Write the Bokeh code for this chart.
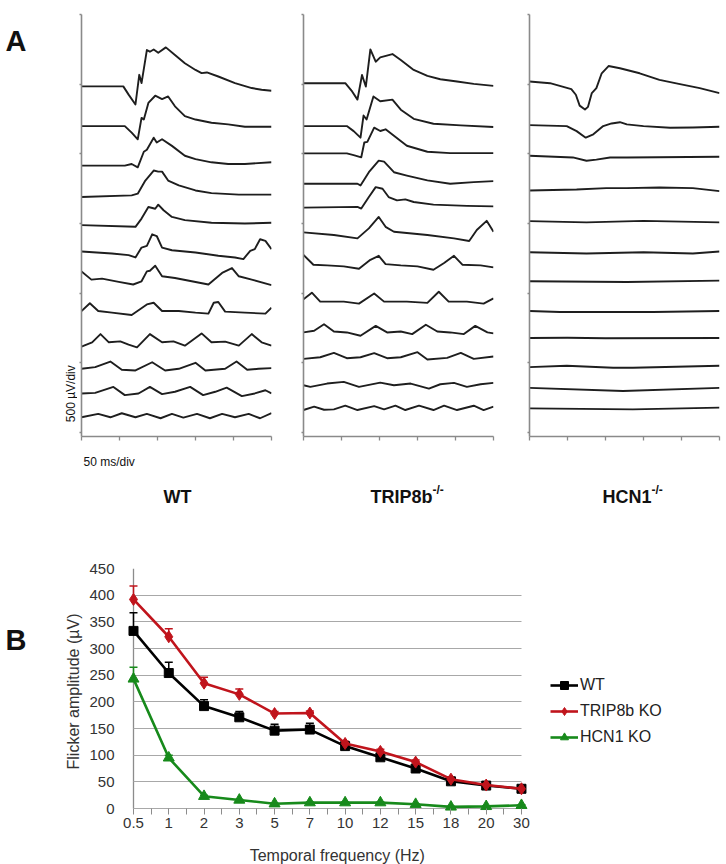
import math
from bokeh.plotting import figure
from bokeh.models import (Range1d, FixedTicker, Legend, LegendItem, Whisker,
                          ColumnDataSource, TeeHead)
from bokeh.core.properties import value
from bokeh.layouts import column, row
from bokeh.embed import file_html
from bokeh.resources import INLINE

FONT = "Liberation Sans"

# ---------------- Panel B data ----------------
FREQ_LABELS = ["0.5", "1", "2", "3", "5", "7", "10", "12", "15", "18", "20", "30"]
WT_AMP   = [333, 254, 192, 171, 146, 148, 117, 96, 75, 51, 43, 37]
WT_ERR   = [34, 20, 12, 11, 12, 12, 4, 4, 4, 3, 3, 2]
TRIP_AMP = [392, 322, 235, 214, 178, 179, 122, 107, 87, 55, 44, 37]
TRIP_ERR = [25, 15, 11, 10, 4, 4, 4, 4, 4, 3, 2, 2]
HCN_AMP  = [243, 95, 23, 16, 9, 11, 11, 11, 8, 3, 4, 6]
HCN_ERR  = [22, 5, 2, 1, 1, 1, 1, 1, 1, 1, 1, 1]

# ---------------- Panel A data (ms, µV relative to each trace's baseline) ----------------
WT_BASE = [2484, 2199, 1915, 1690, 1488, 1299, 1109, 860, 635, 457, 275, 114]
WT_TRACES = [
    [(0,0),(55,0),(62,-59),(71,-130),(76,83),(79,24),(86,261),(90,249),(95,265),(101,242),(111,280),(123,225),(136,166),(150,118),(158,95),(165,100),(180,71),(202,24),(224,-12),(237,-24),(250,-31)],
    [(0,0),(57,0),(66,-47),(74,-95),(79,59),(82,47),(88,166),(97,218),(106,194),(114,213),(123,142),(136,71),(150,47),(171,24),(193,12),(215,-5),(250,-5)],
    [(0,0),(57,0),(66,12),(74,-12),(82,100),(86,114),(95,201),(99,166),(106,190),(119,142),(136,71),(150,47),(171,24),(193,12),(215,12),(250,24)],
    [(0,0),(66,12),(74,24),(84,118),(95,190),(101,182),(106,182),(114,118),(128,83),(150,47),(171,28),(207,17),(250,17)],
    [(0,0),(71,-12),(79,47),(88,130),(97,118),(101,147),(108,107),(119,59),(136,36),(171,17),(215,12),(250,17)],
    [(0,0),(40,-14),(62,-26),(71,-43),(79,28),(86,40),(93,123),(99,111),(106,28),(119,9),(150,-7),(180,-31),(202,-43),(213,-55),(222,5),(228,17),(235,88),(242,76),(250,17)],
    [(0,47),(13,-12),(27,-5),(49,-28),(68,-47),(79,-24),(86,47),(90,52),(97,88),(106,12),(123,0),(145,-24),(167,-47),(185,36),(198,71),(207,12),(224,-12),(250,-52)],
    [(0,12),(11,67),(22,12),(40,0),(66,-17),(86,59),(95,71),(106,12),(128,12),(150,0),(167,-7),(174,71),(180,76),(189,7),(215,0),(242,-7),(250,36)],
    [(0,-19),(14,12),(25,71),(36,12),(51,19),(62,-5),(73,-24),(90,71),(106,12),(121,19),(136,-12),(158,76),(171,12),(189,17),(207,-12),(224,71),(237,12),(250,-12)],
    [(0,0),(18,12),(38,52),(53,-7),(71,-12),(93,47),(110,-12),(128,0),(150,43),(163,-12),(189,0),(204,52),(218,-7),(233,0),(250,5)],
    [(0,5),(18,9),(42,52),(57,-7),(75,5),(90,52),(106,0),(123,17),(143,52),(160,-7),(176,17),(191,47),(211,-14),(228,5),(242,28),(250,5)],
    [(0,-5),(22,19),(38,-5),(53,24),(71,-5),(86,19),(104,-12),(119,19),(134,-7),(152,19),(169,-12),(185,19),(202,-5),(220,19),(235,-12),(250,24)],
]

TRIP_BASE = [2507, 2199, 2003, 1785, 1614, 1429, 1199, 939, 718, 533, 339, 168]
TRIP_TRACES = [
    [(0,0),(55,0),(64,-59),(71,-118),(77,59),(82,-24),(88,242),(95,154),(101,185),(117,209),(128,166),(145,95),(163,52),(180,28),(202,12),(224,-5),(250,-19)],
    [(0,0),(57,0),(66,-36),(75,-83),(79,76),(83,47),(92,213),(101,178),(117,190),(128,118),(145,52),(171,17),(207,5),(250,-7)],
    [(0,0),(57,0),(66,-12),(76,-28),(80,78),(84,83),(93,185),(101,161),(108,173),(119,126),(136,55),(163,12),(193,2),(250,2)],
    [(0,0),(71,0),(75,-12),(86,83),(99,166),(106,159),(119,83),(136,59),(163,24),(193,0),(224,12),(250,19)],
    [(0,0),(71,5),(76,-7),(86,76),(95,147),(104,135),(112,76),(123,52),(134,59),(145,40),(171,21),(215,12),(250,9)],
    [(0,7),(40,-12),(71,-36),(86,36),(99,118),(108,47),(119,12),(163,-12),(198,-36),(218,-55),(228,24),(241,90),(250,12)],
    [(0,76),(13,5),(31,0),(53,-7),(73,-24),(88,40),(99,69),(108,9),(128,0),(150,-7),(171,-31),(185,17),(198,69),(209,5),(233,0),(250,-14)],
    [(0,17),(11,64),(22,0),(53,0),(73,-14),(93,59),(106,0),(136,0),(163,-9),(178,71),(191,0),(215,0),(237,-14),(250,24)],
    [(0,0),(14,12),(27,59),(40,7),(57,0),(75,-24),(95,47),(110,0),(128,7),(143,-12),(161,55),(176,7),(193,0),(211,-12),(226,47),(242,0),(250,-7)],
    [(0,-5),(22,7),(40,38),(57,0),(75,7),(93,36),(110,0),(128,7),(150,43),(163,-9),(189,2),(207,38),(224,-5),(250,12)],
    [(0,0),(9,-12),(31,12),(53,24),(73,-12),(101,19),(119,0),(141,12),(165,-24),(180,7),(198,17),(215,-12),(233,7),(250,17)],
    [(0,-7),(14,17),(27,-5),(40,-2),(55,24),(71,-7),(93,21),(106,-2),(121,24),(134,-7),(152,24),(171,-7),(185,24),(202,-7),(224,24),(237,-7),(250,17)],
]

HCN_BASE = [2519, 2206, 1986, 1737, 1517, 1294, 1085, 872, 678, 474, 315, 178]
HCN_TRACES = [
    [(0,0),(27,-12),(55,-55),(61,-95),(66,-173),(73,-201),(77,-182),(82,-83),(88,-47),(95,59),(104,111),(119,95),(145,59),(171,12),(198,-19),(224,-47),(250,-83)],
    [(0,0),(49,-7),(62,-43),(74,-90),(84,-66),(97,-7),(108,12),(119,21),(128,5),(150,-7),(185,-19),(215,-17),(250,-12)],
    [(0,0),(57,-12),(75,-36),(88,-28),(106,-12),(128,-12),(250,-7)],
    [(0,0),(62,7),(101,17),(128,17),(171,21),(215,17),(250,-5)],
    [(0,0),(75,-9),(150,2),(250,-9)],
    [(0,0),(75,-9),(150,0),(215,-9),(250,5)],
    [(0,0),(128,-5),(250,5)],
    [(0,0),(40,-7),(163,-7),(250,0)],
    [(0,0),(50,2),(100,-2),(250,0)],
    [(0,-5),(49,5),(110,-9),(136,-9),(250,5)],
    [(0,5),(123,-17),(250,5)],
    [(0,-5),(136,-12),(250,0)],
]

TIME_TICKS = [0, 50, 100, 150, 200, 250]
VOLT_TICKS = [0, 500, 1000, 1500, 2000, 2500, 3000]

ROW1_H = 442
AXIS_GREY = "#8a8a8a"
TRACE_COLOR = "#1e1e1e"


def trace_panel(traces, bases, left, frame_w, right):
    p = figure(width=left + frame_w + right, height=ROW1_H,
               x_range=Range1d(0, 250), y_range=Range1d(-29, 3000),
               output_backend="svg", toolbar_location=None,
               min_border_left=left, min_border_right=right,
               min_border_top=14, min_border_bottom=ROW1_H - 14 - 422)
    for tr, b in zip(traces, bases):
        p.line([t for t, _ in tr], [b + v for _, v in tr],
               line_color=TRACE_COLOR, line_width=1.9, line_join="round")
    p.xgrid.visible = False
    p.ygrid.visible = False
    p.outline_line_color = None
    p.xaxis.ticker = FixedTicker(ticks=TIME_TICKS)
    p.yaxis.ticker = FixedTicker(ticks=VOLT_TICKS)
    for ax in (p.xaxis[0], p.yaxis[0]):
        ax.axis_line_color = AXIS_GREY
        ax.axis_line_width = 1.6
        ax.major_tick_line_color = AXIS_GREY
        ax.major_tick_line_width = 1.3
        ax.major_tick_in = 0
        ax.minor_tick_line_color = None
        ax.major_label_text_color = None
        ax.major_label_standoff = 0
    p.xaxis.major_tick_out = 4
    p.yaxis.major_tick_out = 2
    return p


def text_strip(width, height, top):
    # blank figure whose frame is the whole strip; y measured downward from the page top
    s = figure(width=width, height=height, x_range=Range1d(0, width),
               y_range=Range1d(top + height, top), output_backend="svg",
               toolbar_location=None, x_axis_location=None, y_axis_location=None,
               min_border=0)
    s.grid.visible = False
    s.outline_line_color = None
    return s


def txt(s, x, y, text, size, bold=False, align="left", angle=0.0,
        baseline="alphabetic", color="#111111"):
    s.text(x=[x], y=[y], text=[text], text_font=value(FONT), text_font_size=size,
           text_font_style="bold" if bold else "normal", text_align=align,
           text_baseline=baseline, angle=angle, text_color=color)


# ---------------- Panel A ----------------
sA = text_strip(77, ROW1_H, 0)
txt(sA, 5, 28, "A", "29px", bold=True)
txt(sA, 70, 427, "500 \u00b5V/div", "12px", angle=math.pi / 2, baseline="middle")

p1 = trace_panel(WT_TRACES, WT_BASE, 4, 190, 22)
p2 = trace_panel(TRIP_TRACES, TRIP_BASE, 10, 190, 26)
p3 = trace_panel(HCN_TRACES, HCN_BASE, 10, 190, 6)

sLab = text_strip(725, 74, ROW1_H)
txt(sLab, 83, 461, "50 ms/div", "12px")
txt(sLab, 177, 496, "WT", "18px", bold=True, align="center")
txt(sLab, 432, 496, "TRIP8b", "18px", bold=True, align="right")
txt(sLab, 432, 489, "-/-", "12px", bold=True)
txt(sLab, 651, 496, "HCN1", "18px", bold=True, align="right")
txt(sLab, 651, 489, "-/-", "12px", bold=True)

# ---------------- Panel B ----------------
ROW3_TOP = ROW1_H + 74          # 516
B_H = 322                       # figure rows 516..838
sB = text_strip(40, B_H, ROW3_TOP)
txt(sB, 5, 610, "B", "29px", bold=True)

XIDX = list(range(len(FREQ_LABELS)))
PX_PER_CAT = 35.27
FRAME_W = 598
pB = figure(width=685, height=B_H,
            x_range=Range1d(-0.17, -0.17 + FRAME_W / PX_PER_CAT), y_range=Range1d(-11.25, 450),
            output_backend="svg", toolbar_location=None,
            min_border_left=87, min_border_right=0, min_border_top=52, min_border_bottom=B_H - 52 - 246)
pB.outline_line_color = None

# value gridlines (the 0 line doubles as the category axis line)
yg = pB.ygrid[0]
yg.ticker = FixedTicker(ticks=list(range(0, 451, 50)))
yg.grid_line_color = "#a8a8a8"
yg.grid_line_width = 1.2
# the value-axis line at the first category
xg = pB.xgrid[0]
xg.ticker = FixedTicker(ticks=[0])
xg.grid_line_color = "#8c8c8c"
xg.grid_line_width = 1.3
if "cross_bounds" in yg.properties():
    yg.cross_bounds = (0, XIDX[-1])
    xg.cross_bounds = (0, 450)

pB.yaxis.ticker = FixedTicker(ticks=list(range(0, 451, 50)))
pB.xaxis.ticker = FixedTicker(ticks=XIDX, minor_ticks=[i + 0.5 for i in XIDX[:-1]])
pB.xaxis.major_label_overrides = {i: s for i, s in enumerate(FREQ_LABELS)}

for ax in (pB.xaxis[0], pB.yaxis[0]):
    ax.axis_line_color = None
    ax.major_label_text_font = FONT
    ax.major_label_text_font_size = "15px"
    ax.major_label_text_color = "#333333"
    ax.axis_label_text_font = FONT
    ax.axis_label_text_font_size = "16px"
    ax.axis_label_text_font_style = "normal"
    ax.axis_label_text_color = "#333333"
pB.yaxis.major_tick_line_color = None
pB.yaxis.minor_tick_line_color = None
pB.yaxis.major_label_standoff = 7
pB.yaxis.axis_label = "Flicker amplitude (\u00b5V)"
pB.yaxis.axis_label_standoff = 4

pB.xaxis.major_tick_line_color = "#8c8c8c"
pB.xaxis.minor_tick_line_color = "#8c8c8c"
pB.xaxis.major_tick_out = 0
pB.xaxis.minor_tick_out = 0
pB.xaxis.major_tick_in = 6
pB.xaxis.minor_tick_in = 6
pB.xaxis.major_label_standoff = 3

series = [
    ("WT", WT_AMP, WT_ERR, "#000000", "square", 9),
    ("TRIP8b KO", TRIP_AMP, TRIP_ERR, "#c0141c", "diamond", 12),
    ("HCN1 KO", HCN_AMP, HCN_ERR, "#178a1b", "triangle", 11),
]
items = []
for name, amp, err, col, marker, size in series:
    src = ColumnDataSource(dict(x=XIDX, y=amp, hi=[a + e for a, e in zip(amp, err)]))
    pB.add_layout(Whisker(source=src, base="x", lower="y", upper="hi",
                          line_color=col, line_width=1.5,
                          upper_head=TeeHead(size=8, line_color=col, line_width=1.5),
                          lower_head=None))
    lr = pB.line("x", "y", source=src, line_color=col, line_width=2.6)
    sr = pB.scatter("x", "y", source=src, marker=marker, size=size,
                    fill_color=col, line_color=col)
    items.append(LegendItem(label=name, renderers=[lr, sr]))

legend = Legend(items=items, location=(423, 67), glyph_width=28, glyph_height=20,
                label_height=20, spacing=6, padding=0, margin=0, label_standoff=2,
                border_line_color=None, background_fill_alpha=0,
                label_text_font=FONT, label_text_font_size="16px",
                label_text_color="#222222")
pB.add_layout(legend)

# x-axis title, centred under the plotted categories as in the original
sX = text_strip(725, 864 - ROW3_TOP - B_H, ROW3_TOP + B_H)
txt(sX, 339, 855, "Temporal frequency  (Hz)", "16px", color="#333333")
sX.renderers[-1].glyph.text_align = "center"

layout = column(row(sA, p1, p2, p3), sLab, row(sB, pB), sX)
open("out.html", "w").write(file_html(layout, INLINE))
